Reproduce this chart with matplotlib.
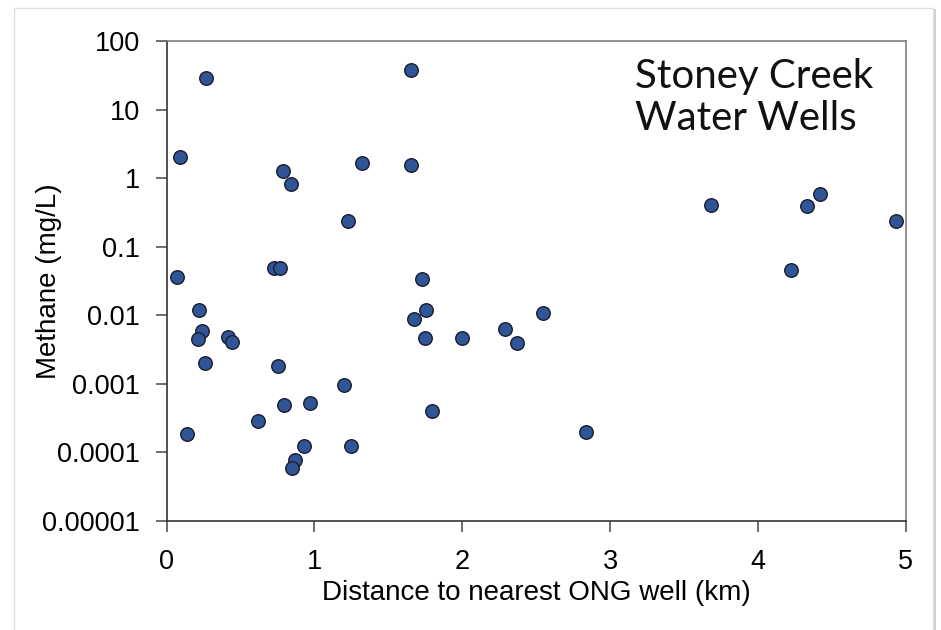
import numpy as np
import matplotlib.pyplot as plt
from matplotlib.patches import Rectangle

# distance to nearest ONG well (km) and methane (mg/L)
distance_km = [0.266, 0.088, 0.068, 0.217, 0.239, 0.214, 0.257, 0.413, 0.44,
               0.137, 0.62, 0.755, 0.792, 0.973, 0.93, 0.868, 0.848, 0.728,
               0.767, 0.787, 0.841, 1.225, 1.319, 1.653, 1.653, 1.202, 1.247,
               1.725, 1.671, 1.756, 1.75, 1.793, 2.0, 2.291, 2.368, 2.548,
               2.837, 3.681, 4.222, 4.334, 4.422, 4.936]
methane_mgL = [29.2, 2.05, 0.0358, 0.0119, 0.00584, 0.00446, 0.00204, 0.00482,
               0.00407, 0.000184, 0.000284, 0.0018, 0.000492, 0.00053, 0.000124,
               7.7e-5, 5.9e-5, 0.0494, 0.0494, 1.28, 0.81, 0.237, 1.68, 37.8,
               1.57, 0.00096, 0.000124, 0.0335, 0.00873, 0.0118, 0.00461,
               0.000406, 0.00461, 0.0063, 0.00398, 0.0107, 0.000199, 0.41,
               0.0457, 0.393, 0.593, 0.237]

x_ticks = [0, 1, 2, 3, 4, 5]
y_ticks = [1e-5, 1e-4, 1e-3, 1e-2, 1e-1, 1, 10, 100]
y_tick_labels = ['0.00001', '0.0001', '0.001', '0.01', '0.1', '1', '10', '100']

plt.rcParams['font.family'] = ['Liberation Sans', 'DejaVu Sans']

fig = plt.figure(figsize=(9.41, 6.30), dpi=100)

# page-like frame with a soft shadow (behind the axes)
fig.patches.append(Rectangle((0.017, -0.02), 0.978, 1.005, transform=fig.transFigure,
                             facecolor='#cfcfcf', edgecolor='none', zorder=-2))
fig.patches.append(Rectangle((0.015, -0.02), 0.976, 1.007, transform=fig.transFigure,
                             facecolor='white', edgecolor='#e0e0e0', linewidth=1, zorder=-1))

ax = fig.add_axes([0.1771, 0.1730, 0.7854, 0.7619])
ax.patch.set_alpha(0)
ax.scatter(distance_km, methane_mgL, s=95, color='#2f5597',
           edgecolors='#1c1c2c', linewidths=1.0, zorder=3, clip_on=False)

ax.set_yscale('log')
ax.set_xlim(0, 5)
ax.set_ylim(1e-5, 100)
ax.set_xticks(x_ticks)
ax.set_xticklabels([str(t) for t in x_ticks])
ax.set_yticks(y_ticks)
ax.set_yticklabels(y_tick_labels)
ax.minorticks_off()
ax.tick_params(direction='out', length=8, width=1.2, color='#555555',
               labelsize=19.5)
ax.tick_params(axis='y', pad=11)
ax.tick_params(axis='x', pad=12)

for side in ['left', 'bottom']:
    ax.spines[side].set_color('#333333')
    ax.spines[side].set_linewidth(1.2)
for side in ['top', 'right']:
    ax.spines[side].set_color('#808080')
    ax.spines[side].set_linewidth(1.2)

ax.set_xlabel('Distance to nearest ONG well (km)', fontsize=20)
ax.set_ylabel('Methane (mg/L)', fontsize=20)
ax.xaxis.set_label_coords(0.5, -0.122)
ax.yaxis.set_label_coords(-0.142, 0.5)

ax.text(0.634, 0.902, 'Stoney Creek', transform=ax.transAxes, fontsize=29,
        family=['Lato', 'DejaVu Sans'], va='baseline', ha='left', color='#111111')
ax.text(0.634, 0.815, 'Water Wells', transform=ax.transAxes, fontsize=29,
        family=['Lato', 'DejaVu Sans'], va='baseline', ha='left', color='#111111')

plt.savefig('out.png', dpi=100)
